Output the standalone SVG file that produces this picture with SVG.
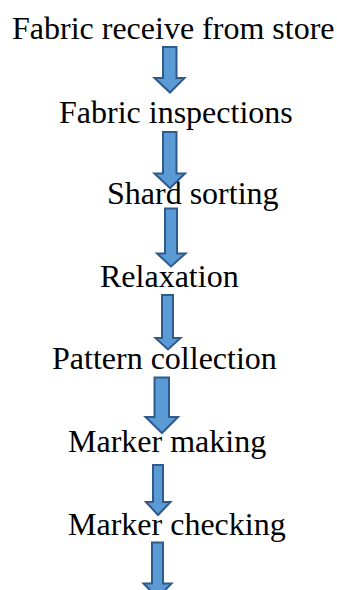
<svg xmlns="http://www.w3.org/2000/svg" width="337" height="590" viewBox="0 0 337 590">
<style>
.t{font-family:"Liberation Serif","Times New Roman",serif;font-size:32px;fill:#000}
.a{fill:#5B9BD5;stroke:#2F5A8A;stroke-width:2;stroke-linejoin:miter}
</style>
<rect width="337" height="590" fill="#fff"/>
<g id="n1"><text class="t" x="12" y="39">Fabric receive from store</text></g>
<g id="n2"><text class="t" x="59" y="123">Fabric inspections</text></g>
<g id="n3"><text class="t" x="107" y="204">Shard sorting</text></g>
<g id="n4"><text class="t" x="100" y="287">Relaxation</text></g>
<g id="n5"><text class="t" x="52" y="369">Pattern collection</text></g>
<g id="n6"><text class="t" x="68" y="452">Marker making</text></g>
<g id="n7"><text class="t" x="68" y="535">Marker checking</text></g>
<g id="connectors">
<path class="a" d="M163,47 H176.5 V78 H184.5 L170,92.5 L154.5,78 H163 Z"/>
<path class="a" d="M163,132 H176.5 V173.5 H185 L170,188 L154.5,173.5 H163 Z"/>
<path class="a" d="M165,208.5 H177 V253.5 H185.5 L171,266.5 L157,253.5 H165 Z"/>
<path class="a" d="M162,295 H173 V338 H180.5 L168,349.5 L155.5,338 H162 Z"/>
<path class="a" d="M154.5,377.5 H169 V417 H178 L162,433 L145.5,417 H154.5 Z"/>
<path class="a" d="M153,465 H163 V502 H170.5 L158,515 L146,502 H153 Z"/>
<path class="a" d="M152,542.5 H163 V583.5 H171.5 L157.5,598 L143.5,583.5 H152 Z"/>
</g>
</svg>
